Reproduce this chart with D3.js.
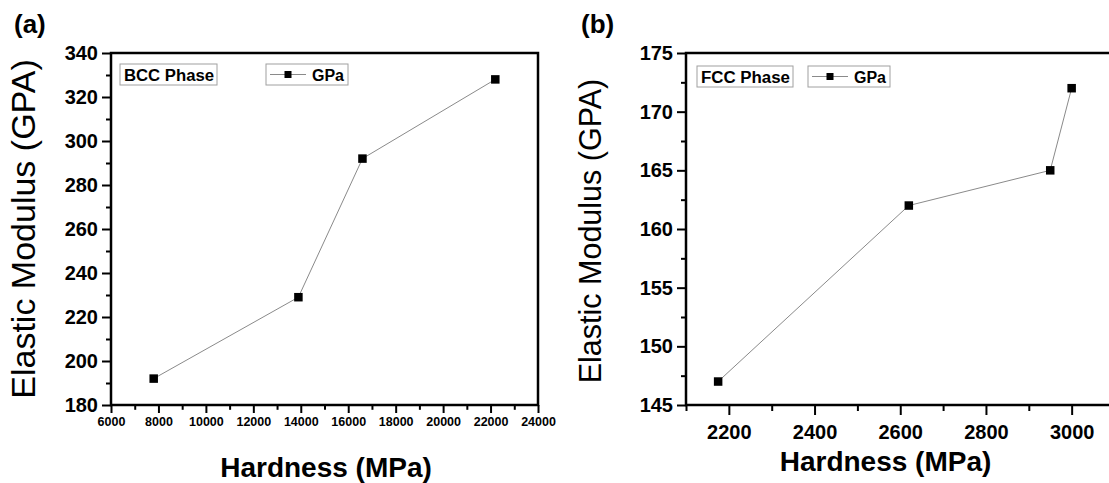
<!DOCTYPE html>
<html><head><meta charset="utf-8">
<script src="https://cdn.jsdelivr.net/npm/d3@7"></script>
<style>body{margin:0;background:#fff}svg{display:block}text{font-family:Arial,"Liberation Sans",sans-serif}</style>
</head><body>
<svg id="c" width="1109" height="483"></svg>
<script>
// Data
const bccHardness = [7800, 13900, 16600, 22200];
const bccModulus  = [192, 229, 292, 328];
const fccHardness = [2175, 2620, 2950, 3000];
const fccModulus  = [147, 162, 165, 172];
const bccXTicks = [6000, 8000, 10000, 12000, 14000, 16000, 18000, 20000, 22000, 24000];
const bccYTicks = [180, 200, 220, 240, 260, 280, 300, 320, 340];
const fccXTicks = [2200, 2400, 2600, 2800, 3000];
const fccYTicks = [145, 150, 155, 160, 165, 170, 175];
const bccXMinor = d3.range(7000, 24000, 2000);
const bccYMinor = d3.range(190, 340, 20);
const fccXMinor = d3.range(2100, 3200, 200);
const fccYMinor = d3.range(147.5, 175, 5);

const svg = d3.select("#c");

function panel(o) {
  const g = svg.append("g");
  const x = d3.scaleLinear().domain(o.xDomain).range([o.left, o.right]);
  const y = d3.scaleLinear().domain(o.yDomain).range([o.bottom, o.top]);
  // frame
  g.append("rect").attr("x", o.left).attr("y", o.top)
    .attr("width", o.right - o.left).attr("height", o.bottom - o.top)
    .attr("fill", "none").attr("stroke", "#000").attr("stroke-width", 2.5);
  // axes
  const xa = g.append("g").attr("transform", `translate(0,${o.bottom})`)
    .call(d3.axisBottom(x).tickValues(o.xTicks).tickSize(o.xTickLen).tickSizeOuter(0).tickPadding(o.xPad).tickFormat(d3.format("d")));
  xa.select(".domain").remove();
  xa.selectAll("line").attr("stroke-width", 2);
  xa.selectAll("text").attr("font-size", o.xFont).attr("font-weight", "bold").attr("fill", "#000");
  const xm = g.append("g").attr("transform", `translate(0,${o.bottom})`)
    .call(d3.axisBottom(x).tickValues(o.xMinor).tickSize(o.xTickLen * 0.6).tickFormat(""));
  xm.select(".domain").remove(); xm.selectAll("line").attr("stroke-width", 2);

  const ya = g.append("g").attr("transform", `translate(${o.left},0)`)
    .call(d3.axisLeft(y).tickValues(o.yTicks).tickSize(9).tickPadding(4).tickFormat(d3.format("d")));
  ya.select(".domain").remove();
  ya.selectAll("line").attr("stroke-width", 2);
  ya.selectAll("text").attr("font-size", 20).attr("font-weight", "bold").attr("fill", "#000");
  const ym = g.append("g").attr("transform", `translate(${o.left},0)`)
    .call(d3.axisLeft(y).tickValues(o.yMinor).tickSize(5).tickFormat(""));
  ym.select(".domain").remove(); ym.selectAll("line").attr("stroke-width", 2);

  // line + markers
  const pts = o.xs.map((v, i) => [v, o.ys[i]]);
  g.append("path").datum(pts)
    .attr("d", d3.line().x(d => x(d[0])).y(d => y(d[1])))
    .attr("fill", "none").attr("stroke", "#8a8a8a").attr("stroke-width", 1);
  g.selectAll("rect.m").data(pts).join("rect").attr("class", "m")
    .attr("x", d => x(d[0]) - 4.25).attr("y", d => y(d[1]) - 4.25)
    .attr("width", 8.5).attr("height", 8.5).attr("fill", "#000");

  // legends
  const ly = o.top + o.legDy;
  g.append("rect").attr("x", o.phaseBox[0]).attr("y", ly).attr("width", o.phaseBox[1]).attr("height", 21)
    .attr("fill", "#fff").attr("stroke", "#a0a0a0").attr("stroke-width", 1);
  g.append("text").attr("x", o.phaseBox[0] + 4).attr("y", ly + 16.5).text(o.phase)
    .attr("font-size", 16).attr("font-weight", "bold").attr("textLength", o.phaseBox[1] - 7).attr("lengthAdjust", "spacingAndGlyphs");
  const gb = o.gpaBox;
  g.append("rect").attr("x", gb[0]).attr("y", ly).attr("width", gb[1]).attr("height", 21)
    .attr("fill", "#fff").attr("stroke", "#a0a0a0").attr("stroke-width", 1);
  g.append("line").attr("x1", gb[0] + 4).attr("x2", gb[0] + 40).attr("y1", ly + 10.5).attr("y2", ly + 10.5)
    .attr("stroke", "#8a8a8a").attr("stroke-width", 1);
  g.append("rect").attr("x", gb[0] + 18.5).attr("y", ly + 7).attr("width", 7).attr("height", 7).attr("fill", "#000");
  g.append("text").attr("x", gb[0] + 46).attr("y", ly + 16.5).text("GPa")
    .attr("font-size", 16).attr("font-weight", "bold");

  // axis titles
  g.append("text").attr("x", (o.left + Math.min(o.right, 1109)) / 2 + o.xTitleDx).attr("y", o.xTitleY)
    .attr("text-anchor", "middle").attr("font-size", 28).attr("font-weight", "bold").text("Hardness (MPa)");
  g.append("text").attr("transform", `translate(${o.yTitleX},${o.yTitleY}) rotate(-90)`)
    .attr("text-anchor", "middle").attr("font-size", o.yTitleFont).text("Elastic Modulus (GPA)");
  g.append("text").attr("x", o.tagX).attr("y", 33).attr("font-size", 26).attr("font-weight", "bold").text(o.tag);
}

panel({
  left: 111, right: 538, top: 53, bottom: 405,
  xDomain: [6000, 24000], yDomain: [180, 340],
  xTicks: bccXTicks, yTicks: bccYTicks, xMinor: bccXMinor, yMinor: bccYMinor,
  xTickLen: 8, xPad: 4, xFont: 12.5,
  xs: bccHardness, ys: bccModulus,
  legDy: 11, phase: "BCC Phase", phaseBox: [120, 97], gpaBox: [266, 82],
  xTitleDx: 1.5, xTitleY: 477, yTitleX: 35, yTitleY: 229, yTitleFont: 34,
  tag: "(a)", tagX: 14
});
panel({
  left: 686, right: 1114.5, top: 53, bottom: 405,
  xDomain: [2100, 3100], yDomain: [145, 175],
  xTicks: fccXTicks, yTicks: fccYTicks, xMinor: fccXMinor, yMinor: fccYMinor,
  xTickLen: 10, xPad: 10, xFont: 20,
  xs: fccHardness, ys: fccModulus,
  legDy: 13, phase: "FCC Phase", phaseBox: [697, 96], gpaBox: [808, 82],
  xTitleDx: -12, xTitleY: 471, yTitleX: 601, yTitleY: 231, yTitleFont: 30.5,
  tag: "(b)", tagX: 581
});
</script>
</body></html>
